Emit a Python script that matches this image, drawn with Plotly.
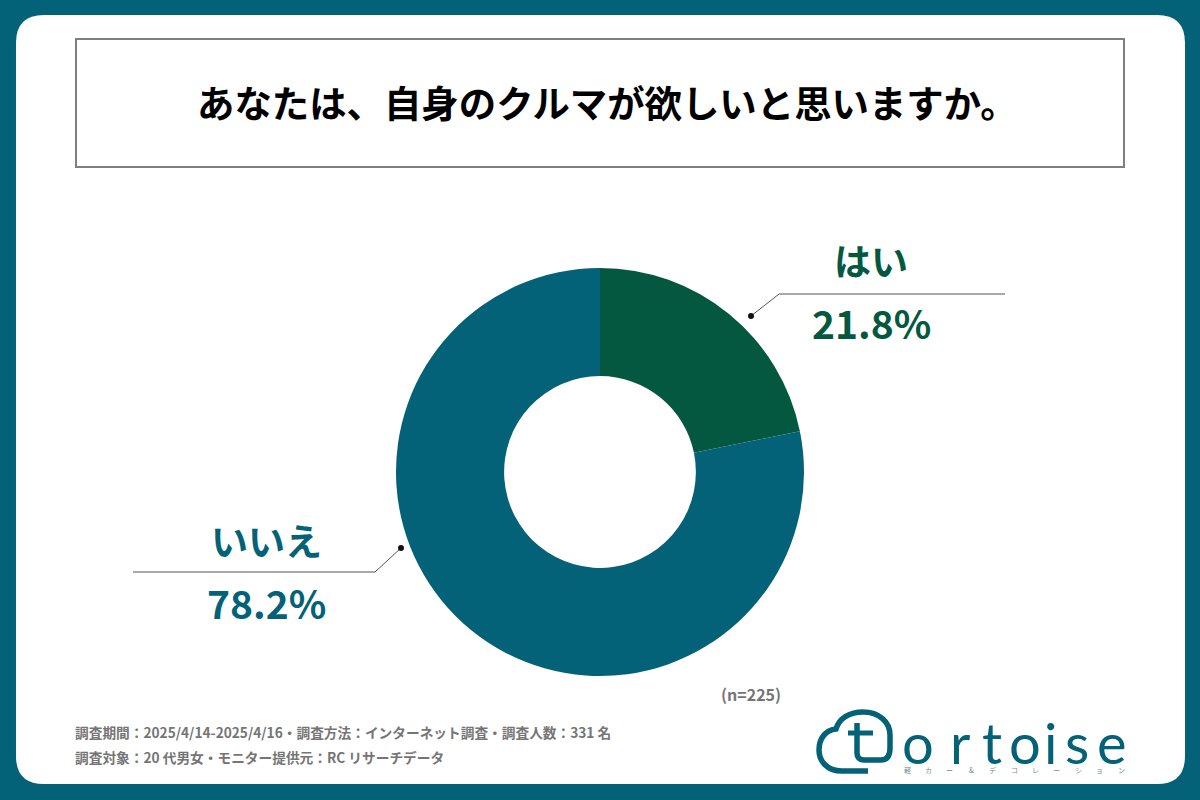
import plotly.graph_objects as go

W, H = 1200, 800
TEAL = "#046278"
GREEN = "#04583f"
GRAY = "#757575"
JP = "Noto Sans CJK JP"

# data
labels = ["はい", "いいえ"]
values = [21.8, 78.2]
colors = [GREEN, TEAL]
title = "あなたは、自身のクルマが欲しいと思いますか。"
sample_note = "(n=225)"
foot_lines = [
    "調査期間：2025/4/14-2025/4/16・調査方法：インターネット調査・調査人数：331 名",
    "調査対象：20 代男女・モニター提供元：RC リサーチデータ",
]
logo_letters = list("ortoise")
logo_sub = list("軽カー&デコレーション")


def px(x):
    return x / W


def py(y):
    return 1 - y / H


def path(*cmds):
    # cmds are letter, then pixel pairs
    out = []
    for c in cmds:
        if isinstance(c, str):
            out.append(c)
        else:
            out.append(f"{px(c[0]):.5f},{py(c[1]):.5f}")
    return " ".join(out)


def text(x, y, s, size, color, bold=True, font=JP, anchor="center"):
    return dict(
        x=px(x), y=py(y), xref="paper", yref="paper", text=f"<b>{s}</b>" if bold else s,
        showarrow=False, xanchor=anchor, yanchor="middle",
        font=dict(family=font, size=size, color=color),
    )


def dot(x, y, r=3):
    return dict(type="circle", xref="paper", yref="paper", x0=px(x - r), x1=px(x + r),
                y0=py(y + r), y1=py(y - r), fillcolor="#111111", line_width=0)


def polyline(pts, color, width):
    cmds = ["M", pts[0]]
    for p in pts[1:]:
        cmds += ["L", p]
    return dict(type="path", xref="paper", yref="paper", path=path(*cmds),
                line=dict(color=color, width=width))


fig = go.Figure(go.Pie(
    labels=labels, values=values, sort=False, direction="clockwise", rotation=0,
    hole=0.47, textinfo="none", showlegend=False,
    marker=dict(colors=colors, line=dict(width=0)),
    domain=dict(x=[px(396), px(804)], y=[py(676), py(268)]),
))

# white rounded panel
l, t, r, b, c = 16, 15, 1185, 784, 28
panel = path("M", (l + c, t), "L", (r - c, t), "Q", (r, t), (r, t + c), "L", (r, b - c),
             "Q", (r, b), (r - c, b), "L", (l + c, b), "Q", (l, b), (l, b - c),
             "L", (l, t + c), "Q", (l, t), (l + c, t), "Z")
shapes = [
    dict(type="path", xref="paper", yref="paper", path=panel, fillcolor="white", line_width=0, layer="below"),
    dict(type="rect", xref="paper", yref="paper", x0=px(76), x1=px(1124), y0=py(167), y1=py(39),
         line=dict(color="#7f7f7f", width=2)),
    # leaders
    polyline([(751, 316), (779, 294), (1005, 294)], "#555555", 1),
    polyline([(401, 548), (375, 572), (133, 572)], "#555555", 1),
    dot(751, 316),
    dot(401, 548),
]

# logo cloud
cloud = path("M", (868, 771), "L", (842, 771), "C", (826, 771), (819, 760), (819, 750),
             "C", (819, 738), (826, 730), (836, 729), "C", (839, 718), (850, 712), (863, 712),
             "C", (879, 712), (890, 722), (890, 735), "L", (890, 748),
             "C", (890, 756), (887, 760), (881, 760), "L", (864, 760),
             "C", (859, 760), (857, 757), (857, 753), "L", (857, 723))
shapes.append(dict(type="path", xref="paper", yref="paper", path=cloud,
                   line=dict(color=TEAL, width=5.5)))
shapes.append(polyline([(848, 733), (873, 733)], TEAL, 5))

annotations = [
    text(607, 102, title, 37.4, "#000000"),
    text(871, 260, labels[0], 37, GREEN),
    text(871, 322, f"{values[0]}%", 39, GREEN),
    text(266, 540, labels[1], 37, TEAL),
    text(266, 602, f"{values[1]}%", 39, TEAL),
    text(783, 694, sample_note, 16, GRAY, anchor="right"),
    text(73, 732, foot_lines[0], 13.7, GRAY, anchor="left"),
    text(73, 757, foot_lines[1], 13.7, GRAY, anchor="left"),
]

letter_x = [918, 960, 992, 1025, 1050, 1077, 1112]
for x, ch in zip(letter_x, logo_letters):
    annotations.append(text(x, 742, ch, 56, TEAL, bold=False, font="Lato"))

for i, ch in enumerate(logo_sub):
    annotations.append(text(907 + i * 21.4, 770, ch, 7, "#6f8f98", bold=False))

fig.update_layout(
    width=W, height=H, margin=dict(l=0, r=0, t=0, b=0),
    paper_bgcolor=TEAL, shapes=shapes, annotations=annotations,
)
# page default margin would push the figure off by 8px
fig.write_html("out.html", config={"displayModeBar": False},
               post_script="document.body.style.margin='0';")
